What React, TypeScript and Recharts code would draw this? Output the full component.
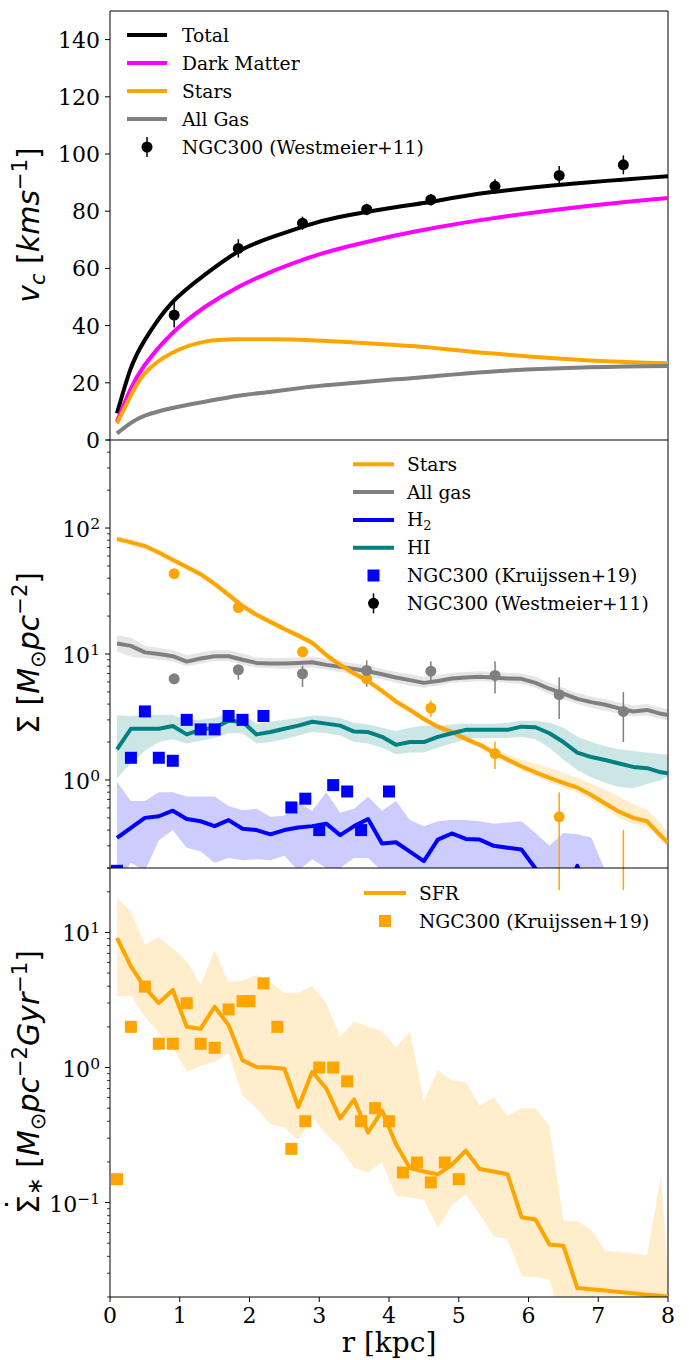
import React from 'react';
import {
  ComposedChart,
  Line,
  Area,
  Scatter,
  XAxis,
  YAxis,
  ErrorBar,
  ReferenceLine,
} from 'recharts';

const SERIF = '"DejaVu Serif", "Liberation Serif", serif';
const SANS = '"DejaVu Sans", sans-serif';

const BLACK = '#000000';
const MAGENTA = '#ff00ff';
const ORANGE = '#ffa500';
const GRAY = '#808080';
const BLUE = '#0000ff';
const TEAL = '#008080';

// ---------- Panel 1: rotation curve decomposition ----------
const rotR = [0.1, 0.29, 0.5, 0.88, 1.36, 1.84, 2.32, 2.8, 3.27, 4.09, 4.61, 5.45, 6.88, 8.0];
const rotTotal = [9.3, 24.5, 35, 47.8, 57.8, 65.9, 70.9, 74.9, 77.9, 81.4, 83.3, 86.6, 90.1, 92.2];
const rotDM = [6.4, 17.5, 26.3, 37.0, 46.5, 53.5, 58.9, 63.3, 66.8, 71.5, 74.0, 77.4, 81.9, 84.6];
const rotStars = [5.8, 15.2, 23.3, 30.3, 34.4, 35.2, 35.2, 35.0, 34.4, 33.25, 32.3, 30.3, 27.8, 26.8];
const rotGas = [2.3, 5.8, 8.5, 11.1, 13.4, 15.5, 16.9, 18.4, 19.5, 21.2, 22.2, 23.9, 25.4, 25.9];

// Westmeier+11 observed rotation curve
const obsR = [0.92, 1.84, 2.76, 3.68, 4.6, 5.52, 6.44, 7.36];
const obsVc = [43.7, 67.0, 75.8, 80.6, 84.0, 88.7, 92.5, 96.2];
const obsVcErr = [4.4, 3.2, 2.3, 2.0, 2.0, 2.5, 3.3, 3.3];

// ---------- Panels 2 & 3: radial profiles ----------
const grid = [
  0.1, 0.3, 0.5, 0.7, 0.9,
  1.1, 1.3, 1.5, 1.7, 1.9,
  2.1, 2.3, 2.5, 2.7, 2.9,
  3.1, 3.3, 3.5, 3.7, 3.9,
  4.1, 4.3, 4.5, 4.7, 4.9,
  5.1, 5.3, 5.5, 5.7, 5.9,
  6.1, 6.3, 6.5, 6.7, 6.9,
  7.1, 7.3, 7.5, 7.7, 7.9,
  8.0,
];

const starsSigma = [
  82, 77, 72, 64, 56,
  49, 43, 36, 29.5, 24,
  20.5, 18, 15.8, 14, 12.3,
  9.8, 8.2, 7.0, 6.1, 5.1,
  4.2, 3.6, 3.05, 2.65, 2.4,
  2.12, 1.9, 1.65, 1.45, 1.28,
  1.15, 1.04, 0.95, 0.87, 0.76,
  0.65, 0.56, 0.5, 0.47, 0.36,
  0.317,
];
const starsLo = [
  77, 72.5, 68, 60, 52.5,
  46, 40.5, 34, 27.8, 22.5,
  19.3, 16.9, 14.9, 13.2, 11.6,
  9.2, 7.7, 6.6, 5.75, 4.8,
  3.95, 3.4, 2.87, 2.5, 2.26,
  2.0, 1.79, 1.55, 1.36, 1.2,
  1.07, 0.96, 0.87, 0.79, 0.69,
  0.59, 0.5, 0.45, 0.42, 0.33,
  0.29,
];
const starsHi = [
  86, 81, 75.5, 67.5, 59,
  51.5, 45.5, 38, 31.5, 25.5,
  21.7, 19, 16.7, 14.8, 13,
  10.4, 8.7, 7.4, 6.45, 5.4,
  4.45, 3.8, 3.22, 2.8, 2.54,
  2.25, 2.02, 1.76, 1.6, 1.45,
  1.35, 1.25, 1.14, 1.04, 0.93,
  0.84, 0.74, 0.64, 0.58, 0.45,
  0.38,
];

const gasSigma = [
  12.1, 11.6, 10.3, 10.0, 9.6,
  8.7, 9.2, 9.6, 9.6, 9.0,
  8.5, 8.4, 8.4, 8.5, 8.6,
  8.2, 7.9, 7.6, 7.3, 6.9,
  6.5, 6.2, 5.9, 6.1, 6.4,
  6.5, 6.6, 6.5, 6.4, 6.35,
  5.9, 5.3, 4.85, 4.4, 4.15,
  3.95, 3.7, 3.5, 3.6, 3.35,
  3.27,
];
const gasLo = [
  10.5, 9.5, 9.3, 9.0, 8.7,
  8.0, 8.4, 8.8, 8.8, 8.2,
  7.8, 7.7, 7.6, 7.7, 7.8,
  7.5, 7.2, 6.9, 6.6, 6.3,
  5.9, 5.6, 5.4, 5.6, 5.9,
  6.0, 6.1, 6.0, 5.9, 5.8,
  5.4, 4.8, 4.4, 4.0, 3.75,
  3.55, 3.35, 3.2, 3.25, 3.05,
  2.95,
];
const gasHi = [
  14.0, 13.5, 11.6, 11.2, 10.7,
  9.8, 10.3, 10.7, 10.7, 10.1,
  9.4, 9.3, 9.3, 9.4, 9.6,
  9.1, 8.8, 8.4, 8.1, 7.6,
  7.2, 6.9, 6.6, 6.8, 7.1,
  7.2, 7.3, 7.2, 7.1, 7.0,
  6.6, 5.9, 5.4, 4.9, 4.6,
  4.4, 4.1, 3.9, 4.0, 3.75,
  3.65,
];

const h2Sigma = [
  0.347, 0.417, 0.5, 0.515, 0.57,
  0.49, 0.47, 0.43, 0.48, 0.41,
  0.4, 0.37, 0.4, 0.42, 0.43,
  0.45, 0.365, 0.43, 0.49, 0.313,
  0.32, 0.27, 0.227, 0.336, 0.376,
  0.34, 0.336, 0.3, 0.29, 0.28,
  0.198, 0.14, 0.12, 0.208, 0.1,
  0.09, 0.08, 0.07, 0.07, 0.06,
  0.06,
];
const h2Lo = [
  0.15, 0.22, 0.19, 0.33, 0.4,
  0.29, 0.27, 0.22, 0.24, 0.23,
  0.235, 0.23, 0.25, 0.19, 0.235,
  0.2, 0.2, 0.24, 0.24, 0.19,
  0.17, 0.16, 0.15, 0.14, 0.17,
  0.17, 0.16, 0.15, 0.14, 0.12,
  0.1, 0.08, 0.07, 0.08, 0.06,
  0.05, 0.05, 0.04, 0.04, 0.03,
  0.03,
];
const h2Hi = [
  0.97, 0.68, 0.68, 0.8, 0.8,
  0.74, 0.74, 0.74, 0.62, 0.574,
  0.59, 0.51, 0.52, 0.66, 0.57,
  0.8, 0.55, 0.59, 0.74, 0.57,
  0.68, 0.48, 0.43, 0.47, 0.48,
  0.48, 0.47, 0.45, 0.46, 0.47,
  0.38, 0.3, 0.38, 0.37, 0.35,
  0.19, 0.15, 0.12, 0.1, 0.09,
  0.09,
];

const hiSigma = [
  1.75, 2.55, 2.55, 2.55, 2.68,
  2.3, 2.5, 2.6, 2.95, 2.9,
  2.3, 2.4, 2.55, 2.7, 2.9,
  2.8, 2.7, 2.42, 2.4, 2.2,
  1.9, 2.0, 2.0, 2.2, 2.35,
  2.5, 2.5, 2.5, 2.5, 2.65,
  2.62, 2.35, 2.0, 1.65, 1.52,
  1.44, 1.35, 1.27, 1.24, 1.15,
  1.13,
];
const hiLo = [
  1.03, 1.36, 1.7, 2.0, 2.1,
  1.95, 2.05, 2.15, 2.35, 2.35,
  1.95, 2.0, 2.1, 2.25, 2.4,
  2.35, 2.25, 2.0, 1.95, 1.8,
  1.6, 1.65, 1.65, 1.8, 1.95,
  2.1, 2.15, 2.15, 2.15, 2.2,
  2.1, 1.8, 1.45, 1.2, 1.05,
  0.95, 0.88, 0.86, 0.93, 1.0,
  1.07,
];
const hiHi = [
  3.27, 3.2, 3.3, 3.3, 3.3,
  3.0, 3.0, 3.1, 3.4, 3.3,
  2.8, 2.9, 3.0, 3.1, 3.25,
  3.2, 3.1, 2.85, 2.75, 2.6,
  2.45, 2.6, 2.7, 2.7, 2.75,
  2.8, 2.8, 2.8, 2.85, 2.95,
  2.95, 2.85, 2.6, 2.2, 2.0,
  1.85, 1.75, 1.7, 1.65, 1.6,
  1.6,
];

// Westmeier+11 surface densities (same radii as the rotation curve)
const wmStars = [43.4, 23.4, 10.4, 6.35, 3.72, 1.62, 0.51, 0.15];
const wmStarsErr: [number, number][] = [
  [2, 2], [1.5, 1.5], [0.8, 0.8], [0.5, 0.5], [0.55, 0.55], [0.4, 0.4], [0.4, 0.29], [0.1, 0.25],
];
const wmGas = [6.35, 7.5, 6.97, 7.4, 7.3, 6.76, 4.75, 3.5];
const wmGasErr: [number, number][] = [
  [0.5, 0.5], [1.25, 0.6], [1.5, 1.1], [1.9, 1.5], [1.1, 1.45], [1.9, 2.0], [1.7, 1.8], [1.5, 1.5],
];

// Kruijssen+19 molecular gas surface density
const krR = [0.1, 0.3, 0.5, 0.7, 0.9, 1.1, 1.3, 1.5, 1.7, 1.9, 2.2, 2.6, 2.8, 3.0, 3.2, 3.4, 3.6, 4.0];
const krH2 = [0.19, 1.5, 3.5, 1.5, 1.42, 3.0, 2.52, 2.52, 3.22, 3.0, 3.22, 0.605, 0.71, 0.4, 0.91, 0.81, 0.4, 0.81];

// Star formation rate surface density
const sfr = [
  9.1, 5.6, 3.9, 3.0, 3.75,
  2.0, 1.94, 2.82, 2.06, 1.13,
  1.01, 1.0, 0.98, 0.51, 0.93,
  0.7, 0.42, 0.58, 0.33, 0.48,
  0.27, 0.18, 0.17, 0.162, 0.19,
  0.242, 0.177, 0.17, 0.162, 0.078,
  0.075, 0.049, 0.048, 0.0233, 0.0228,
  0.0223, 0.0218, 0.0213, 0.0208, 0.0204,
  0.0201,
];
const sfrLo = [
  3.34, 3.4, 2.37, 1.79, 1.42,
  0.93, 1.03, 1.1, 1.27, 0.62,
  0.5, 0.38, 0.36, 0.29, 0.43,
  0.32, 0.256, 0.182, 0.167, 0.2,
  0.112, 0.109, 0.105, 0.065, 0.096,
  0.115, 0.082, 0.056, 0.054, 0.0285,
  0.028, 0.027, 0.012, 0.012, 0.012,
  0.012, 0.012, 0.012, 0.012, 0.012,
  0.01,
];
const sfrHi = [
  18, 14.3, 8.1, 9.2, 7.65,
  6.1, 4.1, 7.4, 4.3, 4.4,
  4.85, 4.3, 3.55, 3.6, 4.0,
  3.0, 1.7, 2.2, 2.0, 1.85,
  1.42, 1.84, 0.57, 0.95, 0.8,
  0.78, 0.52, 0.6, 0.44, 0.5,
  0.5, 0.37, 0.073, 0.073, 0.063,
  0.044, 0.043, 0.042, 0.041, 0.158,
  0.03,
];

// Kruijssen+19 SFR surface density
const krSfrR = [0.1, 0.3, 0.5, 0.7, 0.9, 1.1, 1.3, 1.5, 1.7, 1.9, 2.0, 2.2, 2.4, 2.6, 2.8, 3.0, 3.2, 3.4, 3.6, 3.8, 4.0, 4.2, 4.4, 4.6, 4.8, 5.0];
const krSfr = [0.149, 2.0, 3.97, 1.5, 1.5, 2.99, 1.5, 1.4, 2.69, 3.1, 3.1, 4.2, 2.0, 0.25, 0.4, 1.0, 1.0, 0.79, 0.4, 0.5, 0.4, 0.167, 0.198, 0.141, 0.198, 0.149];

// ---------- axis ticks ----------
const rTicks = [0, 1, 2, 3, 4, 5, 6, 7, 8];
const vcTicks = [0, 20, 40, 60, 80, 100, 120, 140];
const sigmaMajor = [1, 10, 100];
const sigmaTicks = [
  0.2, 0.3, 0.4, 0.5, 0.6, 0.7, 0.8, 0.9, 1,
  2, 3, 4, 5, 6, 7, 8, 9, 10,
  20, 30, 40, 50, 60, 70, 80, 90, 100,
  200, 300, 400, 500,
];
const sfrMajor = [0.1, 1, 10];
const sfrTicks = [
  0.02, 0.03, 0.04, 0.05, 0.06, 0.07, 0.08, 0.09, 0.1,
  0.2, 0.3, 0.4, 0.5, 0.6, 0.7, 0.8, 0.9, 1,
  2, 3, 4, 5, 6, 7, 8, 9, 10,
  20, 30,
];
const expLabel: Record<string, string> = { '0.1': '\u22121', '1': '0', '10': '1', '100': '2' };

// ---------- chart tables ----------
const rotRows = rotR.map((r, i) => ({
  r,
  total: rotTotal[i],
  dm: rotDM[i],
  stars: rotStars[i],
  gas: rotGas[i],
}));
const rotObs = obsR.map((r, i) => ({ r, v: obsVc[i], e: obsVcErr[i] }));

const sigmaRows = grid.map((r, i) => ({
  r,
  stars: starsSigma[i],
  starsBand: [starsLo[i], starsHi[i]],
  gas: gasSigma[i],
  gasBand: [gasLo[i], gasHi[i]],
  h2: h2Sigma[i],
  h2Band: [h2Lo[i], h2Hi[i]],
  hi: hiSigma[i],
  hiBand: [hiLo[i], hiHi[i]],
}));
const wmStarsPts = obsR.map((r, i) => ({ r, v: wmStars[i], e: wmStarsErr[i] }));
const wmGasPts = obsR.map((r, i) => ({ r, v: wmGas[i], e: wmGasErr[i] }));
const krH2Pts = krR.map((r, i) => ({ r, v: krH2[i] }));

const sfrRows = grid.map((r, i) => ({ r, sfr: sfr[i], sfrBand: [sfrLo[i], sfrHi[i]] }));
const krSfrPts = krSfrR.map((r, i) => ({ r, v: krSfr[i] }));

// ---------- tick renderers ----------
const near = (list: number[], v: number) => list.some((m) => Math.abs(m - v) < 1e-9);

const linearYTick = (props: any) => {
  const { x, y, payload } = props;
  return (
    <g>
      <line x1={x - 5} x2={x} y1={y} y2={y} stroke={BLACK} strokeWidth={1} />
      <text x={x - 10} y={y + 8} textAnchor="end" fontFamily={SERIF} fontSize={22} fill={BLACK}>
        {payload.value}
      </text>
    </g>
  );
};

const makeLogYTick = (majors: number[]) => (props: any) => {
  const { x, y, payload } = props;
  const v = payload.value as number;
  const major = near(majors, v);
  return (
    <g>
      <line x1={x - (major ? 5 : 3)} x2={x} y1={y} y2={y} stroke={BLACK} strokeWidth={major ? 1 : 0.8} />
      {major && (
        <text x={x - 10} y={y + 9} textAnchor="end" fontFamily={SERIF} fontSize={22} fill={BLACK}>
          10
          <tspan dy={-8} fontSize={15.5}>
            {expLabel[String(v)]}
          </tspan>
        </text>
      )}
    </g>
  );
};
const sigmaYTick = makeLogYTick(sigmaMajor);
const sfrYTick = makeLogYTick(sfrMajor);

const bottomXTick = (props: any) => {
  const { x, y, payload } = props;
  return (
    <g>
      <line x1={x} x2={x} y1={y} y2={y + 5} stroke={BLACK} strokeWidth={1} />
      <text x={x} y={y + 26} textAnchor="middle" fontFamily={SERIF} fontSize={22} fill={BLACK}>
        {payload.value}
      </text>
    </g>
  );
};

// ---------- marker shapes ----------
const dotShape = (color: string, r = 5.5) => (p: any) =>
  p.cx == null ? <g /> : <circle cx={p.cx} cy={p.cy} r={r} fill={color} />;
const squareShape = (color: string, s = 12) => (p: any) =>
  p.cx == null ? <g /> : <rect x={p.cx - s / 2} y={p.cy - s / 2} width={s} height={s} fill={color} />;

const CHART_W = 689;
const MARGIN_R = 21;
const AXIS_W = 110;
const LINE_W = 4;

const lineProps = {
  dot: false as const,
  activeDot: false as const,
  isAnimationActive: false,
  strokeWidth: LINE_W,
  strokeLinejoin: 'round' as const,
  strokeLinecap: 'butt' as const,
};

// ---------- legend pieces ----------
type LegendItem = { label: React.ReactNode; color: string; kind: 'line' | 'dot' | 'square' };

const LEGEND_FONT = 18.7;

const LegendBlock = ({ items, x1, x2, textX, y0, step }: {
  items: LegendItem[]; x1: number; x2: number; textX: number; y0: number; step: number;
}) => (
  <g>
    {items.map((it, i) => {
      const y = y0 + i * step;
      const cx = (x1 + x2) / 2;
      return (
        <g key={i}>
          {it.kind === 'line' && (
            <line x1={x1} x2={x2} y1={y} y2={y} stroke={it.color} strokeWidth={LINE_W} />
          )}
          {it.kind === 'dot' && (
            <g>
              <line x1={cx} x2={cx} y1={y - 10} y2={y + 10} stroke={it.color} strokeWidth={1.5} />
              <circle cx={cx} cy={y} r={5.5} fill={it.color} />
            </g>
          )}
          {it.kind === 'square' && <rect x={cx - 6} y={y - 6} width={12} height={12} fill={it.color} />}
          <text x={textX} y={y + 6.5} fontFamily={SERIF} fontSize={LEGEND_FONT} fill={BLACK}>
            {it.label}
          </text>
        </g>
      );
    })}
  </g>
);

const legendRot: LegendItem[] = [
  { label: 'Total', color: BLACK, kind: 'line' },
  { label: 'Dark Matter', color: MAGENTA, kind: 'line' },
  { label: 'Stars', color: ORANGE, kind: 'line' },
  { label: 'All Gas', color: GRAY, kind: 'line' },
  { label: 'NGC300 (Westmeier+11)', color: BLACK, kind: 'dot' },
];
const legendSigma: LegendItem[] = [
  { label: 'Stars', color: ORANGE, kind: 'line' },
  { label: 'All gas', color: GRAY, kind: 'line' },
  {
    label: (
      <>
        H<tspan dy={4} fontSize={13}>2</tspan>
      </>
    ),
    color: BLUE,
    kind: 'line',
  },
  { label: 'HI', color: TEAL, kind: 'line' },
  { label: 'NGC300 (Kruijssen+19)', color: BLUE, kind: 'square' },
  { label: 'NGC300 (Westmeier+11)', color: BLACK, kind: 'dot' },
];
const legendSfr: LegendItem[] = [
  { label: 'SFR', color: ORANGE, kind: 'line' },
  { label: 'NGC300 (Kruijssen+19)', color: ORANGE, kind: 'square' },
];

const SUB = 21;

export default function App() {
  return (
    <div style={{ position: 'absolute', left: 0, top: 0, width: 689, height: 1360, background: '#ffffff' }}>
      {/* Rotation curve */}
      <div style={{ position: 'absolute', left: 0, top: 0 }}>
        <ComposedChart width={CHART_W} height={460} data={rotRows} margin={{ top: 11, right: MARGIN_R, bottom: 20, left: 0 }}>
          <XAxis dataKey="r" type="number" domain={[0, 8]} allowDataOverflow ticks={rTicks} height={0} tick={false} tickLine={false} axisLine={{ stroke: BLACK }} />
          <YAxis type="number" domain={[0, 150]} allowDataOverflow ticks={vcTicks} interval={0} width={AXIS_W} tickLine={false} tickSize={0} tickMargin={0} axisLine={{ stroke: BLACK }} tick={linearYTick} />
          <ReferenceLine y={150} stroke={BLACK} strokeWidth={1} />
          <ReferenceLine x={8} stroke={BLACK} strokeWidth={1} />
          <Line dataKey="total" type="natural" stroke={BLACK} {...lineProps} />
          <Line dataKey="dm" type="natural" stroke={MAGENTA} {...lineProps} />
          <Line dataKey="stars" type="natural" stroke={ORANGE} {...lineProps} />
          <Line dataKey="gas" type="natural" stroke={GRAY} {...lineProps} />
          <Scatter data={rotObs} dataKey="v" fill={BLACK} shape={dotShape(BLACK)} isAnimationActive={false}>
            <ErrorBar dataKey="e" direction="y" width={0} stroke={BLACK} strokeWidth={1.5} />
          </Scatter>
        </ComposedChart>
      </div>

      {/* Surface densities */}
      <div style={{ position: 'absolute', left: 0, top: 430 }}>
        <ComposedChart width={CHART_W} height={460} data={sigmaRows} margin={{ top: 10, right: MARGIN_R, bottom: 22, left: 0 }}>
          <XAxis dataKey="r" type="number" domain={[0, 8]} allowDataOverflow ticks={rTicks} height={0} tick={false} tickLine={false} axisLine={{ stroke: BLACK }} />
          <YAxis type="number" scale="log" domain={[0.2, 500]} allowDataOverflow ticks={sigmaTicks} interval={0} width={AXIS_W} tickLine={false} tickSize={0} tickMargin={0} axisLine={{ stroke: BLACK }} tick={sigmaYTick} />
          <ReferenceLine y={500} stroke={BLACK} strokeWidth={1} />
          <ReferenceLine x={8} stroke={BLACK} strokeWidth={1} />
          <Area dataKey="starsBand" type="linear" stroke="none" fill={ORANGE} fillOpacity={0.2} isAnimationActive={false} dot={false} activeDot={false} />
          <Area dataKey="gasBand" type="linear" stroke="none" fill={GRAY} fillOpacity={0.2} isAnimationActive={false} dot={false} activeDot={false} />
          <Area dataKey="h2Band" type="linear" stroke="none" fill={BLUE} fillOpacity={0.2} isAnimationActive={false} dot={false} activeDot={false} />
          <Area dataKey="hiBand" type="linear" stroke="none" fill={TEAL} fillOpacity={0.2} isAnimationActive={false} dot={false} activeDot={false} />
          <Line dataKey="gas" type="linear" stroke={GRAY} {...lineProps} />
          <Line dataKey="stars" type="linear" stroke={ORANGE} {...lineProps} />
          <Line dataKey="h2" type="linear" stroke={BLUE} {...lineProps} />
          <Line dataKey="hi" type="linear" stroke={TEAL} {...lineProps} />
          <Scatter data={krH2Pts} dataKey="v" fill={BLUE} shape={squareShape(BLUE)} isAnimationActive={false} />
          <Scatter data={wmStarsPts} dataKey="v" fill={ORANGE} shape={dotShape(ORANGE)} isAnimationActive={false}>
            <ErrorBar dataKey="e" direction="y" width={0} stroke={ORANGE} strokeWidth={1.5} />
          </Scatter>
          <Scatter data={wmGasPts} dataKey="v" fill={GRAY} shape={dotShape(GRAY)} isAnimationActive={false}>
            <ErrorBar dataKey="e" direction="y" width={0} stroke={GRAY} strokeWidth={1.5} />
          </Scatter>
        </ComposedChart>
      </div>

      {/* Star formation rate */}
      <div style={{ position: 'absolute', left: 0, top: 858 }}>
        <ComposedChart width={CHART_W} height={502} data={sfrRows} margin={{ top: 10, right: MARGIN_R, bottom: 0, left: 0 }}>
          <XAxis dataKey="r" type="number" domain={[0, 8]} allowDataOverflow ticks={rTicks} interval={0} height={63} tickLine={false} tickSize={0} tickMargin={0} axisLine={{ stroke: BLACK }} tick={bottomXTick} />
          <YAxis type="number" scale="log" domain={[0.02, 30]} allowDataOverflow ticks={sfrTicks} interval={0} width={AXIS_W} tickLine={false} tickSize={0} tickMargin={0} axisLine={{ stroke: BLACK }} tick={sfrYTick} />
          <ReferenceLine y={30} stroke={BLACK} strokeWidth={1} />
          <ReferenceLine x={8} stroke={BLACK} strokeWidth={1} />
          <Area dataKey="sfrBand" type="linear" stroke="none" fill={ORANGE} fillOpacity={0.2} isAnimationActive={false} dot={false} activeDot={false} />
          <Line dataKey="sfr" type="linear" stroke={ORANGE} {...lineProps} />
          <Scatter data={krSfrPts} dataKey="v" fill={ORANGE} shape={squareShape(ORANGE)} isAnimationActive={false} />
        </ComposedChart>
      </div>

      {/* Axis titles and legends */}
      <svg width={689} height={1360} style={{ position: 'absolute', left: 0, top: 0, pointerEvents: 'none' }}>
        <text transform="translate(39,225) rotate(-90)" textAnchor="middle" fontFamily={SANS} fontSize={30} fill={BLACK}>
          <tspan fontStyle="italic">v</tspan>
          <tspan fontStyle="italic" fontSize={SUB} dy={6}>c</tspan>
          <tspan dy={-6}>{' ['}</tspan>
          <tspan fontStyle="italic">kms</tspan>
          <tspan fontSize={SUB} dy={-12}>{'\u22121'}</tspan>
          <tspan dy={12}>]</tspan>
        </text>
        <text transform="translate(39,653) rotate(-90)" textAnchor="middle" fontFamily={SANS} fontSize={30} fill={BLACK}>
          <tspan>{'\u03a3 ['}</tspan>
          <tspan fontStyle="italic">M</tspan>
          <tspan fontSize={SUB} dy={6}>{'\u2299'}</tspan>
          <tspan fontStyle="italic" dy={-6}>pc</tspan>
          <tspan fontSize={SUB} dy={-12}>{'\u22122'}</tspan>
          <tspan dy={12}>]</tspan>
        </text>
        <text transform="translate(39,1082) rotate(-90)" textAnchor="middle" fontFamily={SANS} fontSize={30} fill={BLACK}>
          <tspan>{'\u03a3'}</tspan>
          <tspan dx={-17} dy={-11}>{'\u02d9'}</tspan>
          <tspan fontSize={SUB} dx={2} dy={14}>{'\u2217'}</tspan>
          <tspan dy={-3}>{' ['}</tspan>
          <tspan fontStyle="italic">M</tspan>
          <tspan fontSize={SUB} dy={6}>{'\u2299'}</tspan>
          <tspan fontStyle="italic" dy={-6}>pc</tspan>
          <tspan fontSize={SUB} dy={-12}>{'\u22122'}</tspan>
          <tspan fontStyle="italic" dy={12}>Gyr</tspan>
          <tspan fontSize={SUB} dy={-12}>{'\u22121'}</tspan>
          <tspan dy={12}>]</tspan>
        </text>
        <text x={389} y={1352} textAnchor="middle" fontFamily={SERIF} fontSize={28} fill={BLACK}>
          r [kpc]
        </text>

        <LegendBlock items={legendRot} x1={127} x2={167} textX={182} y0={35} step={28} />
        <LegendBlock items={legendSigma} x1={353} x2={394} textX={407} y0={464.3} step={27.8} />
        <LegendBlock items={legendSfr} x1={364} x2={406} textX={419} y0={893} step={28} />
      </svg>
    </div>
  );
}
